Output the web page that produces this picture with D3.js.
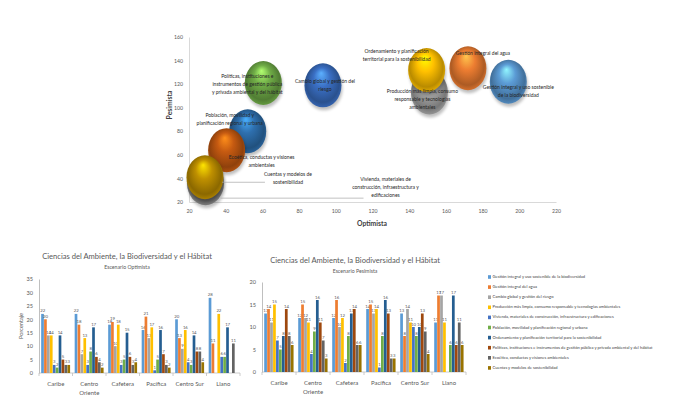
<!DOCTYPE html>
<html>
<head>
<meta charset="utf-8">
<script src="https://cdn.jsdelivr.net/npm/d3@7"></script>
<style>
body { margin: 0; background: #fff; }
svg { display: block; font-family: Lato, "Liberation Sans", sans-serif; }
</style>
</head>
<body>
<script>
const categories = ["Caribe", "Centro Oriente", "Cafetera", "Pacífica", "Centro Sur", "Llano"];
const seriesNames = [
    "Gestión integral y uso sostenible de la biodiversidad",
    "Gestión integral del agua",
    "Cambio global y gestión del riesgo",
    "Producción más limpia, consumo responsable y tecnologías ambientales",
    "Vivienda, materiales de construcción, infraestructura y edificaciones",
    "Población, movilidad y planificación regional y urbana",
    "Ordenamiento y planificación territorial para la sostenibilidad",
    "Políticas, instituciones e instrumentos de gestión pública y privada ambiental y del hábitat",
    "Ecoética, conductas y visiones ambientales",
    "Cuentas y modelos de sostenibilidad"
];
// one row per region, one value per series
const optimista = [
    [22, 20, 14, 14, 3, 2, 14, 5, 3, 3],
    [22, 18, 7, 13, 3, 8, 17, 6, 4, 2],
    [18, 19, 10, 18, 3, 5, 15, 6, 3, 4],
    [16, 21, 13, 17, 1, 5, 16, 7, 3, 2],
    [20, 13, 9, 16, 4, 3, 14, 8, 8, 4],
    [28, 11, 0, 22, 6, 6, 17, 0, 11, 0]
];
const pesimista = [
    [13, 14, 11, 15, 7, 5, 8, 14, 8, 6],
    [12, 15, 12, 11, 4, 9, 16, 11, 7, 3],
    [12, 16, 10, 12, 2, 8, 13, 14, 6, 6],
    [14, 15, 13, 14, 1, 8, 16, 13, 3, 3],
    [13, 8, 14, 11, 10, 8, 10, 13, 9, 4],
    [11, 17, 17, 11, 0, 6, 17, 6, 11, 6]
];
const optimistaTicks = [0, 5, 10, 15, 20, 25, 30, 35];
const pesimistaTicks = [0, 5, 10, 15, 20];

// bubble chart: x = optimista, y = pesimista, same series order
const bubbleX = [194, 172, 93, 151, 29, 52, 149.5, 60.5, 40.5, 28.7];
const bubbleY = [122, 133.5, 119, 113, 36, 80, 132, 121, 64, 41];
const bubbleLabels = [
    ["Gestión integral y uso sostenible", "de la biodiversidad"],
    ["Gestión integral del agua"],
    ["Cambio global y gestión del", "riesgo"],
    ["Producción más limpia, consumo", "responsable y tecnologías", "ambientales"],
    ["Vivienda, materiales de", "construcción, infraestructura y", "edificaciones"],
    ["Población, movilidad y", "planificación regional y urbana"],
    ["Ordenamiento y planificación", "territorial para la sostenibilidad"],
    ["Políticas, instituciones e", "instrumentos de gestión pública", "y privada ambiental y del hábitat"],
    ["Ecoética, conductas y visiones", "ambientales"],
    ["Cuentas y modelos de", "sostenibilidad"]
];
const bubbleXTicks = [20, 40, 60, 80, 100, 120, 140, 160, 180, 200, 220];
const bubbleYTicks = [20, 40, 60, 80, 100, 120, 140, 160];

const barColors = ["#5b9bd5", "#ed7d31", "#a5a5a5", "#ffc000", "#4472c4",
                   "#70ad47", "#255e91", "#9e480e", "#636363", "#997300"];
const bubbleColors = ["#5b9bd5", "#ed7d31", "#3a6fc4", "#a5a5a5", "#8a8a8a",
                      "#2e6fae", "#ffc000", "#70ad47", "#c55a11", "#bf9000"];
// label offsets from bubble centre (px), leader lines where the label sits away
const labelOffset = [[10, 6], [15, -14], [2, -3], [-7, 0], [180, -3],
                     [-18, -15], [-30, -18], [-16, -6], [35, 8], [83, -2]];
const leaders = { 4: [15, 15, 158, 15], 9: [17, 5, 60, 5] };

const textGray = "#595959";

const svg = d3.select("body")
    .append("svg")
    .attr("width", 683)
    .attr("height", 399);

const defs = svg.append("defs");

// ---------- bubble chart ----------
let bx = d3.scaleLinear().domain([20, 220]).range([189, 556]);
let by = d3.scaleLinear().domain([20, 160]).range([202, 37]);

let bxAxis = svg.append("g")
    .attr("transform", "translate(0,202)")
    .call(d3.axisBottom(bx).tickValues(bxTicks()).tickSize(0).tickPadding(7));
let byAxis = svg.append("g")
    .attr("transform", "translate(189,0)")
    .call(d3.axisLeft(by).tickValues(bubbleYTicks).tickSize(0).tickPadding(6));
function bxTicks() { return bubbleXTicks; }
[bxAxis, byAxis].forEach(a => {
    a.select(".domain").attr("stroke", "#d9d9d9");
    a.selectAll("text").attr("fill", textGray).style("font-size", "5.2px").style("font-family", "Lato, sans-serif");
});

svg.append("text")
    .attr("x", 372).attr("y", 226)
    .attr("text-anchor", "middle")
    .style("font-size", "6.8px").style("font-weight", "bold")
    .attr("fill", "#404040")
    .text("Optimista");
svg.append("text")
    .attr("transform", "translate(172,105) rotate(-90)")
    .attr("text-anchor", "middle")
    .style("font-size", "6.8px").style("font-weight", "bold")
    .attr("fill", "#404040")
    .text("Pesimista");

const shadow = defs.append("filter").attr("id", "blur").attr("x", "-50%").attr("y", "-50%")
    .attr("width", "200%").attr("height", "200%");
shadow.append("feGaussianBlur").attr("stdDeviation", 1.6);

bubbleColors.forEach((c, i) => {
    let g = defs.append("radialGradient").attr("id", "bub" + i)
        .attr("cx", "50%").attr("cy", "48%").attr("r", "55%")
        .attr("fx", "45%").attr("fy", "22%");
    let col = d3.color(c);
    g.append("stop").attr("offset", "0%").attr("stop-color", col.brighter(1.3));
    g.append("stop").attr("offset", "40%").attr("stop-color", col);
    g.append("stop").attr("offset", "82%").attr("stop-color", col.darker(0.9));
    g.append("stop").attr("offset", "100%").attr("stop-color", col.darker(0.2));
});

let bubbles = svg.append("g");
bubbleX.forEach((x, i) => {
    bubbles.append("ellipse")
        .attr("cx", bx(x) + 1).attr("cy", by(bubbleY[i]) + 3)
        .attr("rx", 18.5).attr("ry", 22)
        .attr("fill", "#000").attr("opacity", 0.25)
        .attr("filter", "url(#blur)");
    bubbles.append("ellipse")
        .attr("cx", bx(x)).attr("cy", by(bubbleY[i]))
        .attr("rx", 18.5).attr("ry", 22)
        .attr("fill", "url(#bub" + i + ")");
});

let labels = svg.append("g");
bubbleLabels.forEach((lines, i) => {
    let cx = bx(bubbleX[i]), cy = by(bubbleY[i]);
    if (leaders[i]) {
        let l = leaders[i];
        labels.append("line")
            .attr("x1", cx + l[0]).attr("y1", cy + l[1])
            .attr("x2", cx + l[2]).attr("y2", cy + l[3])
            .attr("stroke", "#a6a6a6").attr("stroke-width", 0.7);
    }
    let t = labels.append("text")
        .attr("text-anchor", "middle")
        .attr("dominant-baseline", "middle")
        .style("font-size", "5px")
        .attr("fill", "#262626");
    lines.forEach((ln, k) => {
        t.append("tspan")
            .attr("x", cx + labelOffset[i][0])
            .attr("y", cy + labelOffset[i][1] + k * 7.8)
            .text(ln);
    });
});

// ---------- bar charts ----------
let drawBars = (opts) => {
    let g = svg.append("g");
    let x0 = d3.scaleBand().domain(categories).range([opts.left, opts.right])
        .paddingInner(0.13).paddingOuter(0.065);
    let x1 = d3.scaleBand().domain(d3.range(seriesNames.length)).range([0, x0.bandwidth()]);
    let y = d3.scaleLinear().domain([0, opts.max]).range([opts.bottom, opts.top]);

    g.append("text")
        .attr("x", opts.titleX).attr("y", opts.titleY)
        .attr("text-anchor", "middle")
        .style("font-size", "7.6px")
        .attr("fill", textGray)
        .text("Ciencias del Ambiente, la Biodiversidad y el Hábitat");
    g.append("text")
        .attr("x", opts.titleX).attr("y", opts.titleY + 10)
        .attr("text-anchor", "middle")
        .style("font-size", "5.2px")
        .attr("fill", textGray)
        .text(opts.subtitle);

    let yAxis = g.append("g")
        .attr("transform", "translate(" + opts.left + ",0)")
        .call(d3.axisLeft(y).tickValues(opts.ticks).tickSize(0).tickPadding(6));
    yAxis.select(".domain").attr("stroke", "#bfbfbf");
    yAxis.selectAll("text").attr("fill", textGray).style("font-size", "5.6px").style("font-family", "Lato, sans-serif");

    g.append("line")
        .attr("x1", opts.left).attr("x2", opts.right)
        .attr("y1", opts.bottom).attr("y2", opts.bottom)
        .attr("stroke", "#bfbfbf").attr("stroke-width", 0.8);
    let step = x0.step();
    d3.range(categories.length + 1).forEach(k => {
        let xx = opts.left + k * step;
        g.append("line")
            .attr("x1", xx).attr("x2", xx)
            .attr("y1", opts.bottom).attr("y2", opts.bottom + 3)
            .attr("stroke", "#bfbfbf").attr("stroke-width", 0.8);
    });

    categories.forEach((c, ci) => {
        let words = c === "Centro Oriente" ? ["Centro", "Oriente"] : [c];
        let t = g.append("text")
            .attr("text-anchor", "middle")
            .style("font-size", "6px")
            .attr("fill", textGray);
        words.forEach((w, k) => {
            t.append("tspan")
                .attr("x", x0(c) + x0.bandwidth() / 2)
                .attr("y", opts.bottom + 13 + k * 9)
                .text(w);
        });

        opts.values[ci].forEach((v, si) => {
            if (v === 0) return;
            let bxp = x0(c) + x1(si);
            g.append("rect")
                .attr("x", bxp)
                .attr("y", y(v))
                .attr("width", x1.bandwidth() * 0.92)
                .attr("height", opts.bottom - y(v))
                .attr("fill", barColors[si]);
            g.append("text")
                .attr("x", bxp + x1.bandwidth() / 2)
                .attr("y", y(v) - 1.5)
                .attr("text-anchor", "middle")
                .style("font-size", "4.3px")
                .attr("fill", textGray)
                .text(v);
        });
    });

    if (opts.yTitle) {
        g.append("text")
            .attr("transform", "translate(23," + ((opts.top + opts.bottom) / 2) + ") rotate(-90)")
            .attr("text-anchor", "middle")
            .style("font-size", "5.6px")
            .attr("fill", textGray)
            .text(opts.yTitle);
    }
};

drawBars({
    values: optimista, max: 35, ticks: optimistaTicks,
    left: 39, right: 240, top: 279, bottom: 373,
    titleX: 127, titleY: 259, subtitle: "Escenario Optimista", yTitle: "Porcentaje"
});
drawBars({
    values: pesimista, max: 20, ticks: pesimistaTicks,
    left: 262, right: 466, top: 282, bottom: 372,
    titleX: 355, titleY: 263, subtitle: "Escenario Pesimista"
});

// legend
let legend = svg.append("g");
seriesNames.forEach((s, i) => {
    let ly = 277 + i * 10.1;
    legend.append("rect")
        .attr("x", 488).attr("y", ly - 1.8)
        .attr("width", 3).attr("height", 3.6)
        .attr("fill", barColors[i]);
    legend.append("text")
        .attr("x", 492.5).attr("y", ly)
        .attr("dominant-baseline", "middle")
        .style("font-size", "4.1px")
        .attr("fill", "#404040")
        .text(s);
});
</script>
</body>
</html>
